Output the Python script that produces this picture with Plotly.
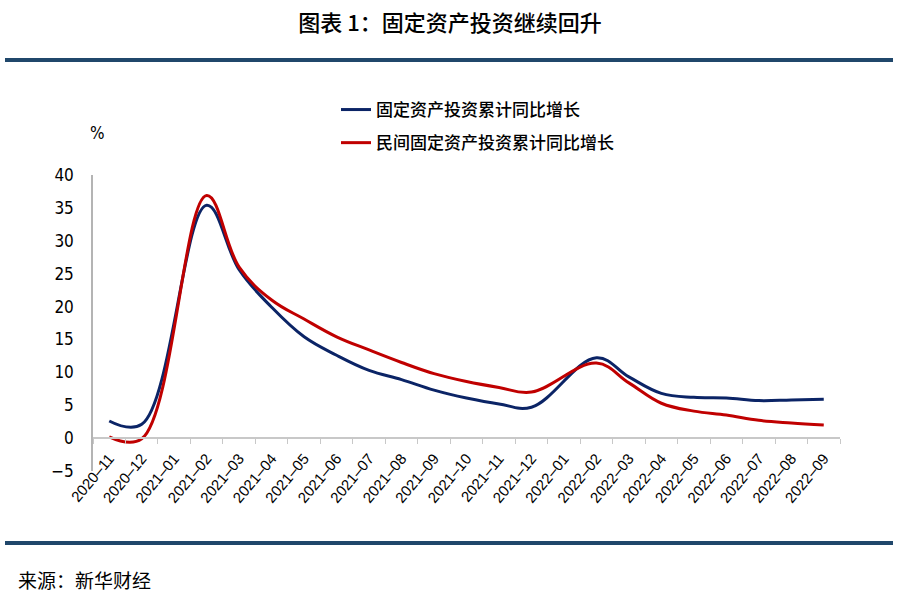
import plotly.graph_objects as go

categories = ["2020–11", "2020–12", "2021–01", "2021–02", "2021–03", "2021–04", "2021–05",
              "2021–06", "2021–07", "2021–08", "2021–09", "2021–10", "2021–11", "2021–12",
              "2022–01", "2022–02", "2022–03", "2022–04", "2022–05", "2022–06", "2022–07",
              "2022–08", "2022–09"]
fai_total = [2.6, 2.1, None, 35.4, 25.6, 19.9, 15.4, 12.6, 10.3, 8.9, 7.3, 6.1, 5.2, 4.7,
             None, 12.2, 9.3, 6.8, 6.2, 6.1, 5.7, 5.8, 5.9]
fai_private = [0.2, -0.1, None, 36.9, 26.0, 21.0, 18.1, 15.4, 13.4, 11.5, 9.8, 8.6, 7.7, 7.0,
               None, 11.4, 8.4, 5.3, 4.1, 3.5, 2.7, 2.3, 2.0]
y_ticks = [-5, 0, 5, 10, 15, 20, 25, 30, 35, 40]

W, H = 900, 600
L, R = 93, 840          # plot area left / right (px)
PT, B = 60, 471         # paper top / bottom (px)
AT = 175                # y-axis top (px)
pw, ph = R - L, B - PT

def px_x(x):
    return (x - L) / pw

def px_y(y):
    return (B - y) / ph

CJK = "Noto Sans CJK SC"
NUM = "Liberation Sans Narrow, DejaVu Sans Condensed, Liberation Sans, Arial"
XNUM = "Liberation Sans, Arial"

fig = go.Figure()
fig.add_trace(go.Scatter(x=categories, y=fai_total, name="固定资产投资累计同比增长",
                         mode="lines", connectgaps=True, legendgroup="a",
                         line=dict(color="#0B2466", width=3, shape="spline", smoothing=1.1)))
fig.add_trace(go.Scatter(x=categories, y=fai_private, name="民间固定资产投资累计同比增长",
                         mode="lines", connectgaps=True, legendgroup="b",
                         line=dict(color="#C00000", width=3, shape="spline", smoothing=1.1)))

fig.update_layout(
    width=W, height=H,
    margin=dict(l=L, r=W - R, t=PT, b=H - B, autoexpand=False),
    paper_bgcolor="white", plot_bgcolor="white",
    title=dict(text="图表 1：固定资产投资继续回升", x=0.5, xref="container", xanchor="center",
               y=1 - 23 / H, yref="container", yanchor="middle",
               font=dict(family=CJK, size=22, color="black", weight=500)),
    showlegend=True,
    legend=dict(x=px_x(336), xanchor="left", y=px_y(92), yanchor="top",
                font=dict(family=CJK, size=17, color="black", weight=500),
                itemwidth=30, traceorder="grouped", tracegroupgap=8,
                bgcolor="rgba(0,0,0,0)"),
    xaxis=dict(type="category", range=[-0.5, len(categories) - 0.5],
               tickmode="array", tickvals=categories, ticktext=categories,
               anchor="free", position=px_y(B - (B - AT) * 5 / 45),
               showline=True, linecolor="#C8C8C8", linewidth=1.5,
               ticks="outside", ticklen=5, tickcolor="#C8C8C8", tickson="boundaries",
               tickangle=-50, showgrid=False, zeroline=False, ticklabelstandoff=5,
               tickfont=dict(family=XNUM, size=15, color="black")),
    yaxis=dict(range=[-5, 40], domain=[0, px_y(AT)], tickvals=y_ticks,
               showline=True, linecolor="#B4B4B4",
               linewidth=1.5, ticks="", showgrid=False, zeroline=False,
               ticklabelstandoff=14,
               tickfont=dict(family=NUM, size=17, color="black")),
    shapes=[
        dict(type="line", xref="paper", yref="paper", x0=px_x(5), x1=px_x(893),
             y0=px_y(60), y1=px_y(60), line=dict(color="#20476B", width=4)),
        dict(type="line", xref="paper", yref="paper", x0=px_x(5), x1=px_x(893),
             y0=px_y(543), y1=px_y(543), line=dict(color="#20476B", width=4)),
    ],
    annotations=[
        dict(text="%", xref="paper", yref="paper", x=px_x(97), y=px_y(133),
             xanchor="center", yanchor="middle", showarrow=False,
             font=dict(family=NUM, size=17, color="black")),
        dict(text="来源：新华财经", xref="paper", yref="paper", x=px_x(16), y=px_y(579),
             xanchor="left", yanchor="middle", showarrow=False,
             font=dict(family=CJK, size=19, color="black")),
    ],
)

fig.write_html("out.html")
